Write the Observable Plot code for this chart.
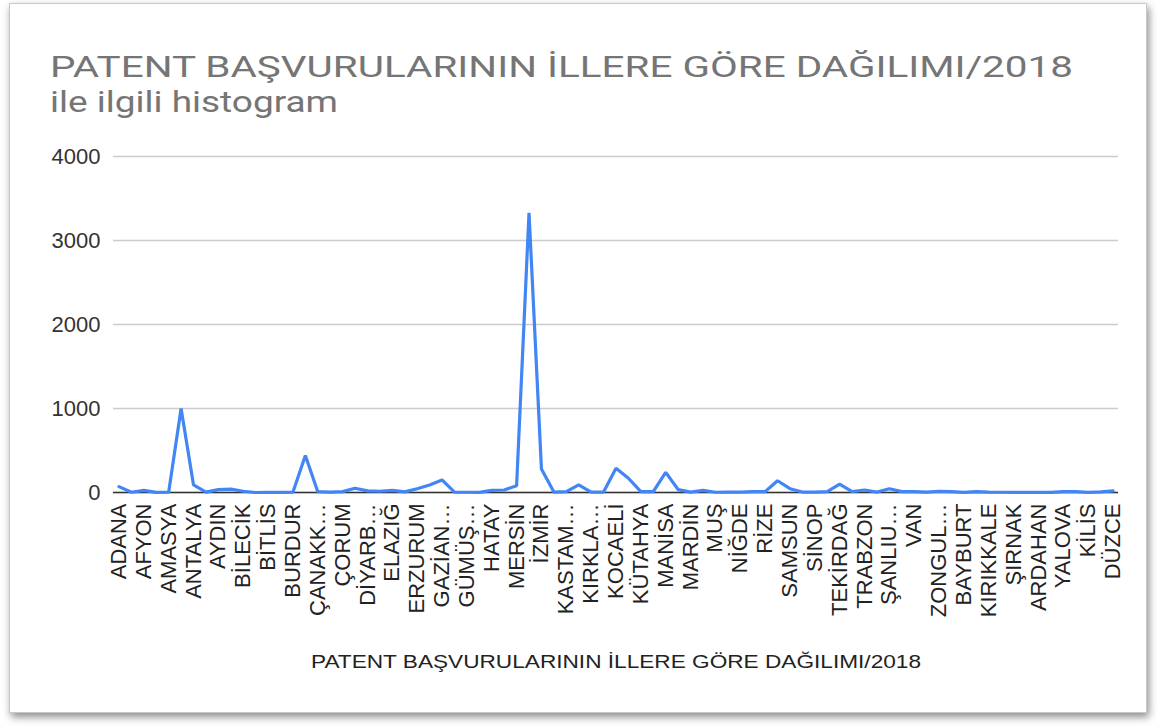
<!DOCTYPE html>
<html>
<head>
<meta charset="utf-8">
<script src="https://cdn.jsdelivr.net/npm/d3@7"></script>
<script src="https://cdn.jsdelivr.net/npm/@observablehq/plot@0.6"></script>
<style>
  html, body { margin: 0; padding: 0; background: #fff; }
  body { width: 1157px; height: 727px; overflow: hidden; position: relative; font-family: "Liberation Sans", Arial, sans-serif; }
  #card { position: absolute; left: 9px; top: 3px; width: 1136px; height: 708px; border: 1px solid #c8c8c8; box-shadow: 2px 4px 8px rgba(0,0,0,0.45); background: #fff; }
  .tline { position: absolute; left: 50px; font-family: Roboto, "Noto Sans", sans-serif; font-size: 30px; line-height: 35px; height: 35px; color: #757575; white-space: nowrap; display: inline-block; transform-origin: 0 50%; }
  #t1 { top: 49px; }
  #t2 { top: 84px; }
  #chart { position: absolute; left: 0; top: 130px; }
</style>
</head>
<body>
<div id="card"></div>
<div id="t1" class="tline">PATENT BAŞVURULARININ İLLERE GÖRE DAĞILIMI/2018</div>
<div id="t2" class="tline">ile ilgili histogram</div>
<div id="chart"></div>
<script>
const provinces = ["ADANA","ADIYAMAN","AFYON","AĞRI","AMASYA","ANKARA","ANTALYA","ARTVİN","AYDIN","BALIKESİR",
  "BİLECİK","BİNGÖL","BİTLİS","BOLU","BURDUR","BURSA","ÇANAKKALE","ÇANKIRI","ÇORUM","DENİZLİ",
  "DİYARBAKIR","EDİRNE","ELAZIĞ","ERZİNCAN","ERZURUM","ESKİŞEHİR","GAZİANTEP","GİRESUN","GÜMÜŞHANE","HAKKARİ",
  "HATAY","ISPARTA","MERSİN","İSTANBUL","İZMİR","KARS","KASTAMONU","KAYSERİ","KIRKLARELİ","KIRŞEHİR",
  "KOCAELİ","KONYA","KÜTAHYA","MALATYA","MANİSA","KAHRAMANMARAŞ","MARDİN","MUĞLA","MUŞ","NEVŞEHİR",
  "NİĞDE","ORDU","RİZE","SAKARYA","SAMSUN","SİİRT","SİNOP","SİVAS","TEKİRDAĞ","TOKAT",
  "TRABZON","TUNCELİ","ŞANLIURFA","UŞAK","VAN","YOZGAT","ZONGULDAK","AKSARAY","BAYBURT","KARAMAN",
  "KIRIKKALE","BATMAN","ŞIRNAK","BARTIN","ARDAHAN","IĞDIR","YALOVA","KARABÜK","KİLİS","OSMANİYE","DÜZCE"];

const applications = [70,3,25,2,3,1000,90,5,35,40,
  15,0,1,2,3,440,10,5,10,50,
  20,15,25,8,45,90,150,5,3,2,
  25,30,80,3330,280,5,10,90,5,5,
  290,170,10,10,240,35,5,25,3,5,
  5,10,10,140,45,5,5,10,100,10,
  30,5,45,10,10,5,15,10,2,10,
  5,3,1,3,1,1,10,10,2,8,20];

const tickLabels = ["ADANA","AFYON","AMASYA","ANTALYA","AYDIN","BİLECİK","BİTLİS","BURDUR","ÇANAKK…","ÇORUM",
  "DİYARB…","ELAZIĞ","ERZURUM","GAZİAN…","GÜMÜŞ…","HATAY","MERSİN","İZMİR","KASTAM…","KIRKLA…",
  "KOCAELİ","KÜTAHYA","MANİSA","MARDİN","MUŞ","NİĞDE","RİZE","SAMSUN","SİNOP","TEKİRDAĞ",
  "TRABZON","ŞANLIU…","VAN","ZONGUL…","BAYBURT","KIRIKKALE","ŞIRNAK","ARDAHAN","YALOVA","KİLİS","DÜZCE"];

const yTicks = [0, 1000, 2000, 3000, 4000];
const axisTitle = "PATENT BAŞVURULARININ İLLERE GÖRE DAĞILIMI/2018";

const data = provinces.map((p, i) => ({province: p, value: applications[i]}));
const labelledProvinces = provinces.filter((d, i) => i % 2 === 0);
const labelFor = new Map(labelledProvinces.map((p, i) => [p, tickLabels[i]]));

const chart = Plot.plot({
  width: 1157,
  height: 597,
  marginTop: 26,
  marginBottom: 235,
  marginLeft: 113,
  marginRight: 39,
  style: {fontFamily: '"Liberation Sans", Arial, sans-serif', fontSize: "22px", color: "#222", background: "transparent", overflow: "visible"},
  x: {type: "point", domain: provinces, padding: 0.44},
  y: {domain: [0, 4000]},
  marks: [
    Plot.gridY(yTicks, {stroke: "#cccccc", strokeOpacity: 1, strokeWidth: 1.3}),
    Plot.ruleY([0], {stroke: "#333333", strokeWidth: 1.6}),
    Plot.axisY(yTicks, {tickSize: 0, tickPadding: 13, label: null, fontSize: 22, fill: "#333", tickFormat: d => String(d)}),
    Plot.axisX(labelledProvinces, {tickSize: 0, tickPadding: 11, tickRotate: -90, tickFormat: d => labelFor.get(d), label: null, fontSize: 22, fill: "#222"}),
    Plot.line(data, {x: "province", y: "value", stroke: "#4285F4", strokeWidth: 3.2, strokeLinejoin: "miter"}),
    Plot.text([axisTitle], {frameAnchor: "bottom", dy: 175, fontSize: 19, fill: "#222", className: "xtitle"})
  ]
});
document.getElementById("chart").append(chart);

// stretch texts horizontally to the reference's widths
const axisText = chart.querySelector(".xtitle text");
if (axisText) { axisText.setAttribute("textLength", "610"); axisText.setAttribute("lengthAdjust", "spacingAndGlyphs"); }
function fit(id, target) {
  const el = document.getElementById(id);
  const w = el.getBoundingClientRect().width;
  if (w > 0) el.style.transform = `scaleX(${target / w})`;
}
fit("t1", 1023);
fit("t2", 288);
</script>
</body>
</html>
